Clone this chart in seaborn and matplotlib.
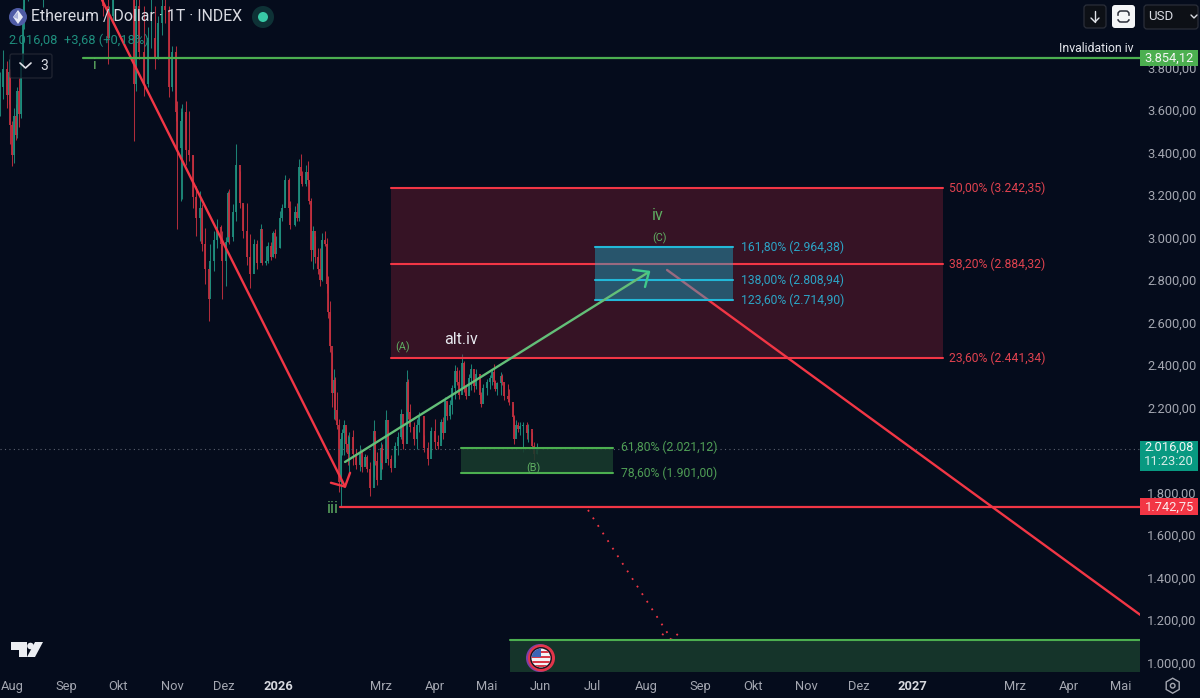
import matplotlib
matplotlib.use("Agg")
import matplotlib.pyplot as plt
import matplotlib.dates as mdates
from matplotlib.patches import Rectangle, Circle, Polygon, FancyBboxPatch, RegularPolygon
from matplotlib.transforms import ScaledTranslation
import numpy as np
import pandas as pd
import seaborn as sns

BG = "#050c1c"
RED = "#f23645"
GREEN = "#4caf50"
CYAN = "#22b8d8"

START = "2025-07-25"
day = [0,2,4,5,6,7,8,9,10,11,12,13,14,16,18,20,22,24,25,27,29,31,33,35,37,39,41,43,45,47,49,51,53,55,
       59,62,63,65,67,69,71,73,75,77,78,80,83,85,87,89,91,93,95,97,99,101,102,104,105,107,109,111,113,115,116,118,
       120,121,123,125,127,128,130,131,132,134,136,138,140,142,144,146,148,150,151,153,154,156,157,158,159,161,162,164,166,167,170,171,
       172,173,174,176,177,178,179,180,181,183,184,185,187,188,189,190,191,192,193,194,195,196,197,198,199,200,201,203,205,207,208,210,211,213,
       215,216,217,219,220,222,223,225,227,229,231,232,234,235,236,238,240,241,244,246,248,250,252,254,255,256,257,259,260,262,263,264,266,267,
       268,270,271,273,274,276,277,278,280,282,283,284,285,286,288,289,290,292,293,295,296,297,298,299,301,303,304,306,307,309]
high = [3790,3890,3840,3850,3800,3560,3620,3640,3720,3760,3850,4100,4180,4350,4500,4700,4780,4600,4500,4600,4850,4950,4650,4550,4500,4500,4650,4700,4750,4650,4600,4650,4600,4500,
        4300,4200,4100,4250,4400,4550,4750,4780,4550,4380,4150,4300,4100,4000,4150,4100,4050,4190,4300,4100,3910,3910,3650,3620,3640,3650,3605,3400,3252,3228,3167,3054,
        2880,2978,3039,3096,3070,3039,3010,3230,3238,3167,3450,3323,3167,3170,3025,3005,3000,3072,3000,2968,2988,2990,3040,3049,3016,3134,3167,3305,3290,3181,3157,3170,
        3380,3403,3323,3350,3370,3275,3195,3063,3016,2959,2959,3030,3040,3006,2827,2709,2473,2393,2355,2284,2157,2072,2110,2152,2120,2082,2095,2105,2015,2034,1987,1992,1987,1954,
        2152,2072,2001,2048,2038,2199,2095,1987,2048,2095,2204,2110,2388,2345,2228,2143,2157,2190,2080,2048,2119,2157,2081,2157,2166,2261,2237,2247,2317,2412,2402,2388,2460,2430,
        2317,2369,2416,2341,2393,2345,2284,2322,2345,2364,2388,2416,2340,2331,2379,2369,2331,2322,2298,2228,2176,2152,2143,2143,2143,2143,2133,2095,2048,2045]
low = [3580,3660,3620,3640,3450,3345,3360,3470,3480,3530,3570,3800,3990,4120,4250,4400,4450,4250,4092,4250,4500,4300,4350,4250,4270,4290,4300,4500,4550,4450,4400,4450,4400,4200,
       4050,3828,3950,4030,4150,4300,4450,4550,4300,3465,3700,3850,3675,3720,3900,3800,3850,3960,4020,3670,3700,3560,3050,3180,3190,3350,3370,3148,3016,2992,2945,2790,
       2615,2765,2850,2960,2950,2720,2780,2990,2980,2992,3087,3148,3006,2880,2770,2880,2860,2945,2880,2880,2890,2905,2920,2912,2955,2960,3087,3167,3134,3049,3063,3087,
       3087,3275,3252,3250,3261,3167,2898,2860,2890,2836,2780,2803,2968,2747,2629,2473,2213,2157,2152,2109,1812,1742,1986,1987,2000,1940,1907,1940,1920,1910,1907,1940,1907,1795,
       1882,1940,1845,1907,1920,1987,1940,1907,1954,1987,2062,2015,2110,2157,2095,2034,2015,2095,2001,1940,2001,2015,2015,2048,2062,2143,2152,2157,2180,2251,2317,2251,2294,2284,
       2251,2284,2294,2284,2298,2251,2213,2251,2270,2298,2317,2317,2290,2270,2270,2317,2247,2237,2223,2152,2039,2081,2095,2081,2001,2062,2048,2015,1965,1990]
close = [3720,3800,3680,3790,3540,3400,3580,3490,3700,3590,3820,4020,4150,4300,4450,4600,4500,4300,4320,4550,4800,4400,4600,4300,4450,4350,4550,4650,4700,4500,4550,4600,4450,4250,
         4100,3950,4050,4200,4350,4480,4650,4700,4350,3730,4100,3880,3730,3950,3950,3860,4020,4100,4080,3720,3880,3600,3430,3560,3600,3420,3400,3200,3100,3150,2980,2860,
         2720,2900,3000,3060,2980,2900,2990,3220,3010,3130,3350,3170,3040,2920,2840,2980,2890,3050,2890,2900,2970,2920,3030,2930,2960,3100,3150,3280,3150,3070,3130,3100,
         3340,3300,3260,3320,3280,3180,2950,3040,2920,2860,2810,3000,2980,2790,2660,2500,2280,2340,2200,2130,1860,2060,2090,2130,2040,1990,2070,1990,1940,2000,1930,1975,1920,1830,
         2100,1960,1870,2020,1950,2150,1970,1925,2030,2070,2180,2040,2330,2190,2120,2060,2130,2170,2020,1970,2100,2050,2030,2140,2090,2240,2170,2220,2300,2380,2330,2270,2420,2300,
         2265,2350,2390,2310,2370,2270,2225,2300,2330,2350,2375,2330,2295,2325,2360,2330,2265,2250,2235,2165,2060,2130,2110,2125,2130,2090,2110,2030,1990,2016]

price_ticks = [1000,1200,1400,1600,1800,2200,2400,2600,2800,3000,3200,3400,3600,3800]
month_dates = ["2025-08-01","2025-09-01","2025-10-01","2025-11-01","2025-12-01","2026-01-01","2026-03-01",
               "2026-04-01","2026-05-01","2026-06-01","2026-07-01","2026-08-01","2026-09-01","2026-10-01",
               "2026-11-01","2026-12-01","2027-01-01","2027-03-01","2027-04-01","2027-05-01"]
month_labels = ["Aug","Sep","Okt","Nov","Dez","2026","Mrz","Apr","Mai","Jun","Jul","Aug","Sep","Okt","Nov","Dez","2027","Mrz","Apr","Mai"]

fib_red_levels = [3242.35, 2884.32, 2441.34]
fib_red_labels = ["50,00% (3.242,35)", "38,20% (2.884,32)", "23,60% (2.441,34)"]
fib_cyan_levels = [2964.38, 2808.94, 2714.90]
fib_cyan_labels = ["161,80% (2.964,38)", "138,00% (2.808,94)", "123,60% (2.714,90)"]
fib_green_levels = [2021.12, 1901.00]
fib_green_labels = ["61,80% (2.021,12)", "78,60% (1.901,00)"]
invalid_level, last_price, low_level = 3854.12, 2016.08, 1742.75
target_zone = [966, 1117]

t0 = mdates.date2num(pd.Timestamp(START))
def X(d):
    return np.asarray(d, dtype=float) + t0

sns.set_theme(style="dark", rc={"axes.facecolor": BG, "figure.facecolor": BG, "axes.grid": False})
plt.rcParams["font.family"] = ["Roboto", "DejaVu Sans"]

fig = plt.figure(figsize=(12, 6.98), dpi=100, facecolor=BG)
ax = fig.add_axes([0, 26/698, 1140/1200, 672/698], facecolor=BG)

# Candles
opens = [close[0]] + close[:-1]
rows_w, rows_b = [], []
for i, (d, o, h, l, c) in enumerate(zip(day, opens, high, low, close)):
    kind = "up" if c >= o else "down"
    rows_w += [(X(d), h, i, kind), (X(d), l, i, kind)]
    rows_b += [(X(d), o, i, kind), (X(d), c, i, kind)]
pal = {"up": "#1f8f7e", "down": "#c4303f"}
for rows, lw in ((rows_w, 0.75), (rows_b, 1.45)):
    df = pd.DataFrame(rows, columns=["x", "p", "id", "kind"])
    sns.lineplot(data=df, x="x", y="p", units="id", hue="kind", palette=pal, estimator=None, sort=False,
                 linewidth=lw, legend=False, ax=ax, zorder=1, solid_capstyle="butt", alpha=0.9)

def seg(xs, ys, color, lw=1.6, z=3, **kw):
    sns.lineplot(x=X(xs), y=ys, color=color, linewidth=lw, estimator=None, sort=False, ax=ax, zorder=z,
                 legend=False, **kw)

def zone(d0, d1, p0, p1, color, alpha, z):
    ax.fill_between(X([d0, d1]), p0, p1, color=color, alpha=alpha, lw=0, zorder=z)

# price line
ax.axhline(last_price, color="#5d6270", lw=0.8, ls=(0, (1, 3)), zorder=1.5)

# Red fib zone
zone(225, 542.6, fib_red_levels[2], fib_red_levels[0], "#7a1f33", 0.42, 2)
for lv, lb in zip(fib_red_levels, fib_red_labels):
    seg([225, 542.6], [lv, lv], RED, 1.5, 3)
    ax.text(X(546), lv, lb, color="#e0424f", fontsize=8.7, va="center", ha="left", zorder=7)

# Main red lines
seg([58.7, 198.5], [4127, 1838], RED, 1.7, 3)
seg([190.4, 198.5, 201.4], [1856, 1838, 1903], RED, 1.7, 3)
seg([383.8, 656], [2857, 1235], RED, 1.7, 3)
seg([338.3, 386.6], [1728, 1117], RED, 1.3, 3, linestyle=(0, (1, 4)))
seg([380.9, 386.6, 391.2], [1145, 1117, 1155], RED, 1.3, 3, linestyle=(0, (1, 4)))

# Cyan fib zone
zone(342.3, 421.7, fib_cyan_levels[2], fib_cyan_levels[0], "#15bad9", 0.40, 4)
for lv, lb in zip(fib_cyan_levels, fib_cyan_labels):
    seg([342.3, 421.7], [lv, lv], CYAN, 1.5, 5)
    ax.text(X(426.3), lv, lb, color="#2ca4c6", fontsize=8.7, va="center", ha="left", zorder=7)

# Green fib zone
zone(265.2, 352.7, fib_green_levels[1], fib_green_levels[0], "#183a2c", 0.88, 4)
for lv, lb in zip(fib_green_levels, fib_green_labels):
    seg([265.2, 352.7], [lv, lv], GREEN, 1.5, 5)
    ax.text(X(357.3), lv, lb, color="#4f9d55", fontsize=8.7, va="center", ha="left", zorder=7)

# Target zone
zone(293.4, 656, target_zone[0], target_zone[1], "#183a2c", 0.88, 4)
seg([293.4, 656], [target_zone[1], target_zone[1]], GREEN, 1.5, 5)

# Horizontal levels
seg([48, 656], [invalid_level, invalid_level], GREEN, 1.6, 3)
seg([195.7, 656], [low_level, low_level], RED, 1.6, 3)

# Green arrow
seg([198.5, 373.4], [1954, 2848], "#63bf78", 1.7, 6)
seg([364.2, 373.4, 371.1], [2858, 2848, 2777], "#3fc98c", 1.7, 6)

# Wave labels
lab = "#5fae62"
ax.text(X(54.7), 3822, "i", color=lab, fontsize=11, ha="center", va="center", zorder=7)
ax.text(X(191.6), 1733, "iii", color=lab, fontsize=12, ha="center", va="center", zorder=7)
ax.text(X(378.6), 3111, "iv", color=lab, fontsize=11.5, ha="center", va="center", zorder=7)
ax.text(X(379.7), 3006, "(C)", color=lab, fontsize=7.8, ha="center", va="center", zorder=7)
ax.text(X(231.9), 2495, "(A)", color=lab, fontsize=7.8, ha="center", va="center", zorder=7)
ax.text(X(306.7), 1926, "(B)", color=lab, fontsize=7.8, ha="center", va="center", zorder=7)
ax.text(X(265.2), 2528, "alt.iv", color="#e6e8ee", fontsize=11.5, ha="center", va="center", zorder=7)
ax.text(X(651.9), 3901, "Invalidation iv", color="#e6e8ee", fontsize=8.8, ha="right", va="center", zorder=7)

# Axes
ax.set_xlim(X(0), X(655.9))
ax.set_ylim(966, 4126.9)
ax.set_xlabel("")
ax.set_ylabel("")
ax.yaxis.tick_right()
ax.set_yticks(price_ticks)
ax.set_yticklabels([f"{v:,.2f}".replace(",", "#").replace(".", ",").replace("#", ".") for v in price_ticks])
ax.set_xticks([mdates.date2num(pd.Timestamp(m)) for m in month_dates])
ax.set_xticklabels(month_labels)
ax.tick_params(axis="y", length=0, pad=5, labelsize=9.3, labelcolor="#a4a7b1")
ax.tick_params(axis="x", length=0, pad=5.5, labelsize=9.3, labelcolor="#a4a7b1")
up_shift = ScaledTranslation(0, 2 / 100, fig.dpi_scale_trans)
for t in ax.get_yticklabels():
    t.set_transform(t.get_transform() + up_shift)
for t, l in zip(ax.get_xticklabels(), month_labels):
    if l.startswith("20"):
        t.set_fontweight("bold")
        t.set_color("#d6d8de")
for s in ax.spines.values():
    s.set_visible(False)

# Price tags on the axis
tr = ax.get_yaxis_transform()
W = 58 / 1140
def tag(level, p_up, p_dn, color):
    ax.add_patch(Rectangle((1, level - p_dn), W, p_up + p_dn, transform=tr, color=color, clip_on=False, zorder=8, lw=0))
tag(invalid_level, 38, 38, "#4caf50")
ax.text(1 + W/2, invalid_level, "3.854,12", transform=tr, color="#f4f6f4", fontsize=9.3, ha="center", va="center", zorder=9, clip_on=False)
tag(low_level, 40, 40, "#f23645")
ax.text(1 + W/2, low_level, "1.742,75", transform=tr, color="#fbe9ea", fontsize=9.3, ha="center", va="center", zorder=9, clip_on=False)
tag(last_price, 38, 104, "#089981")
ax.text(1 + W/2, last_price + 7, "2.016,08", transform=tr, color="#f0f6f4", fontsize=9.3, ha="center", va="center", zorder=9, clip_on=False)
ax.text(1 + W/2, last_price - 61, "11:23:20", transform=tr, color="#d8ece8", fontsize=9.3, ha="center", va="center", zorder=9, clip_on=False)

# Interface overlay in pixel coordinates
ov = fig.add_axes([0, 0, 1, 1], facecolor="none", zorder=10)
ov.set_xlim(0, 1200)
ov.set_ylim(698, 0)
ov.axis("off")

ov.add_patch(Circle((18, 17), 9, color="#4f5ca6", lw=0))
ov.add_patch(Polygon([(18, 10), (23, 17), (18, 24), (13, 17)], closed=True, color="#e8ebf6", lw=0))
ov.add_patch(Polygon([(18, 12), (18, 19), (13, 17)], closed=True, color="#aab3dc", lw=0))
ov.text(31, 17, "Ethereum / Dollar · 1T · INDEX", color="#d9dbe2", fontsize=11.4, va="center", ha="left")
ov.add_patch(Circle((263, 17), 11, color="#0e3236", lw=0))
ov.add_patch(Circle((263, 17), 5, color="#38c9a6", lw=0))
ov.text(8, 40, "2.016,08", color="#1f8f7e", fontsize=9.3, va="center", ha="left")
ov.text(64, 40, "+3,68 (+0,18%)", color="#1f8f7e", fontsize=9.3, va="center", ha="left")
ov.add_patch(FancyBboxPatch((10, 54), 42, 24, boxstyle="round,pad=0,rounding_size=2", fc=BG, ec="#2a2e39", lw=0.9, alpha=0.75))
ov.plot([20, 25.5, 31], [63, 68, 63], color="#e0e2e8", lw=1.2)
ov.text(44, 65.5, "3", color="#d9dbe2", fontsize=10, va="center", ha="center")

ov.add_patch(FancyBboxPatch((1084, 5), 22, 23, boxstyle="round,pad=0,rounding_size=3", fc="#0d1016", ec="#2a2e39", lw=0.9))
ov.plot([1095, 1095], [11, 22], color="#e0e2e8", lw=1)
ov.plot([1091, 1095, 1099], [18, 22, 18], color="#e0e2e8", lw=1)
ov.add_patch(FancyBboxPatch((1112, 5), 23, 23, boxstyle="round,pad=0,rounding_size=3", fc="#f4f5f7", ec="none"))
ov.add_patch(FancyBboxPatch((1118, 11), 11, 11, boxstyle="round,pad=0,rounding_size=3", fc="none", ec="#2a2e39", lw=1.1))
ov.plot([1116, 1131], [16.5, 16.5], color="#f4f5f7", lw=2.4)
ov.add_patch(FancyBboxPatch((1144, 5), 54, 24, boxstyle="round,pad=0,rounding_size=3", fc="#0d1016", ec="#2a2e39", lw=0.9))
ov.text(1148, 16, "USD", color="#d9dbe2", fontsize=9.5, va="center", ha="left")
ov.plot([1191, 1194, 1197], [15, 18, 15], color="#d9dbe2", lw=1)

# TradingView logo
ov.add_patch(Polygon([(11, 642), (27, 642), (27, 657), (19, 657), (19, 650), (11, 650)], closed=True, color="#eceef2", lw=0))
ov.add_patch(Circle((30.5, 646), 3.3, color="#eceef2", lw=0))
ov.add_patch(Polygon([(35, 642), (43, 642), (35, 657), (27, 657)], closed=True, color="#eceef2", lw=0))

# Flag badge
ov.add_patch(Circle((540, 658), 14, color="#7d3ea8", lw=0))
ov.add_patch(Circle((541.5, 658), 13.5, color="#e2354a", lw=0))
ov.add_patch(Circle((541, 658), 11, color="#1a1420", lw=0))
ov.add_patch(Circle((541, 658), 9.5, color="#f3f3f6", lw=0))
flag = Circle((541, 658), 9.5, transform=ov.transData)
for yy in (650.5, 655.5, 660.5, 665):
    r = ov.add_patch(Rectangle((531, yy), 20, 2.4, color="#d8394a", lw=0))
    r.set_clip_path(flag)
r = ov.add_patch(Rectangle((531, 648), 10, 9, color="#3d64b5", lw=0))
r.set_clip_path(flag)

# Settings icon
ov.add_patch(RegularPolygon((1172.7, 685.7), 6, radius=7.5, fc="none", ec="#a4a7b1", lw=1))
ov.add_patch(Circle((1172.7, 685.7), 2.3, fc="none", ec="#a4a7b1", lw=1))

fig.savefig("out.png", dpi=100, facecolor=BG)
